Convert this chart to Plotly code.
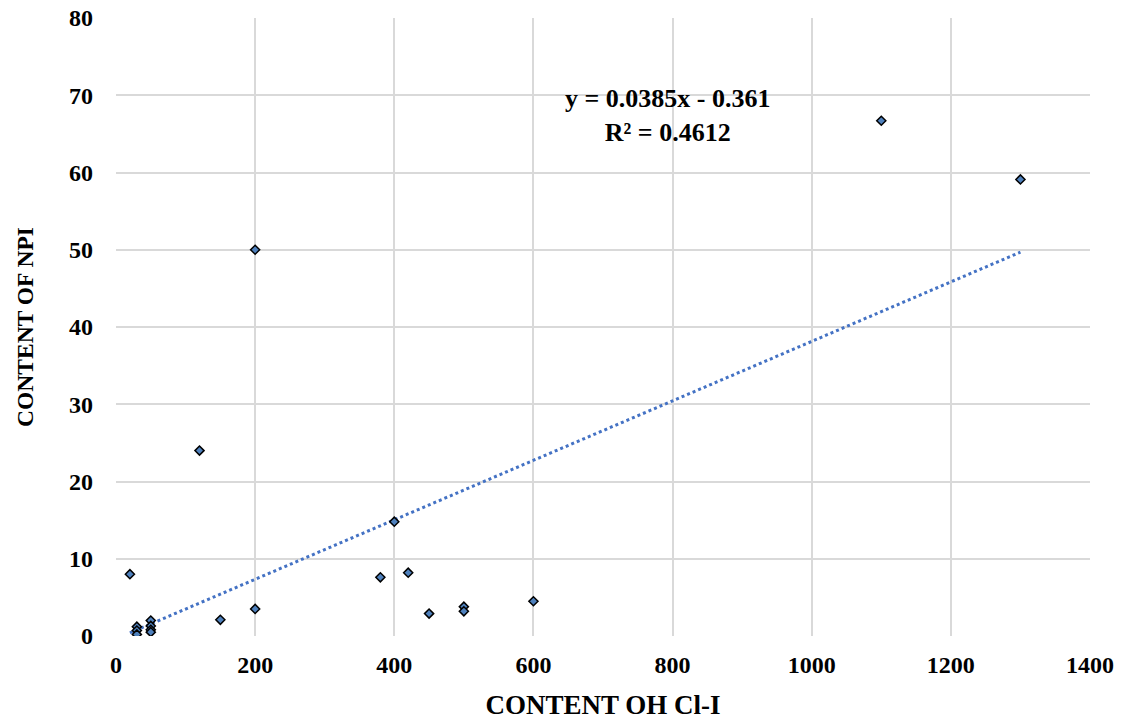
import plotly.graph_objects as go

x_oh = [20, 30, 30, 30, 50, 50, 50, 50, 120, 150, 200, 200, 380, 400, 420, 450, 500, 500, 600, 1100, 1300]
y_npi = [8.0, 1.2, 0.7, 0.2, 2.0, 1.3, 0.8, 0.5, 24.0, 2.1, 50.0, 3.5, 7.6, 14.8, 8.2, 2.9, 3.8, 3.2, 4.5, 66.7, 59.1]
slope = 0.0385
intercept = -0.361
x_ticks = [0, 200, 400, 600, 800, 1000, 1200, 1400]
y_ticks = [0, 10, 20, 30, 40, 50, 60, 70, 80]

x_fit = [min(x_oh), max(x_oh)]
y_fit = [slope * v + intercept for v in x_fit]

font_family = "Liberation Serif, Times New Roman, serif"

fig = go.Figure()
fig.add_trace(go.Scatter(
    x=x_fit, y=y_fit, mode="lines",
    line=dict(color="#4472C4", width=3, dash="dot"),
    showlegend=False, hoverinfo="skip"))
fig.add_trace(go.Scatter(
    x=x_oh, y=y_npi, mode="markers",
    marker=dict(symbol="diamond", size=7, color="#4F81BD",
                line=dict(color="black", width=1.5)),
    showlegend=False))

fig.add_annotation(
    x=792, y=67.4, xref="x", yref="y",
    text="<b>y = 0.0385x - 0.361<br>R² = 0.4612</b>",
    showarrow=False, align="center",
    font=dict(family=font_family, size=26, color="black"))

axis_common = dict(
    showgrid=True, gridcolor="#D9D9D9", gridwidth=2,
    zeroline=False, showline=False, ticks="", automargin=False,
    ticklabeloverflow="allow",
    tickfont=dict(family=font_family, size=24, color="black"),
)
fig.update_xaxes(range=[0, 1400], tickvals=x_ticks,
                 ticktext=[f"<b>{v}</b>" for v in x_ticks],
                 ticklabelstandoff=12,
                 title=dict(text="<b>CONTENT OH Cl-I</b>",
                            font=dict(family=font_family, size=27, color="black"),
                            standoff=18),
                 **axis_common)
fig.update_yaxes(range=[0, 80], tickvals=y_ticks,
                 ticktext=[f"<b>{v}</b>" for v in y_ticks],
                 ticklabelstandoff=22,
                 title=dict(text="<b>CONTENT OF NPI</b>",
                            font=dict(family=font_family, size=23.5, color="black"),
                            standoff=28),
                 **axis_common)

fig.update_layout(
    width=1127, height=721,
    margin=dict(l=108, r=45, t=10, b=93),
    plot_bgcolor="white", paper_bgcolor="white",
    font=dict(family=font_family),
)

fig.write_html("out.html")
